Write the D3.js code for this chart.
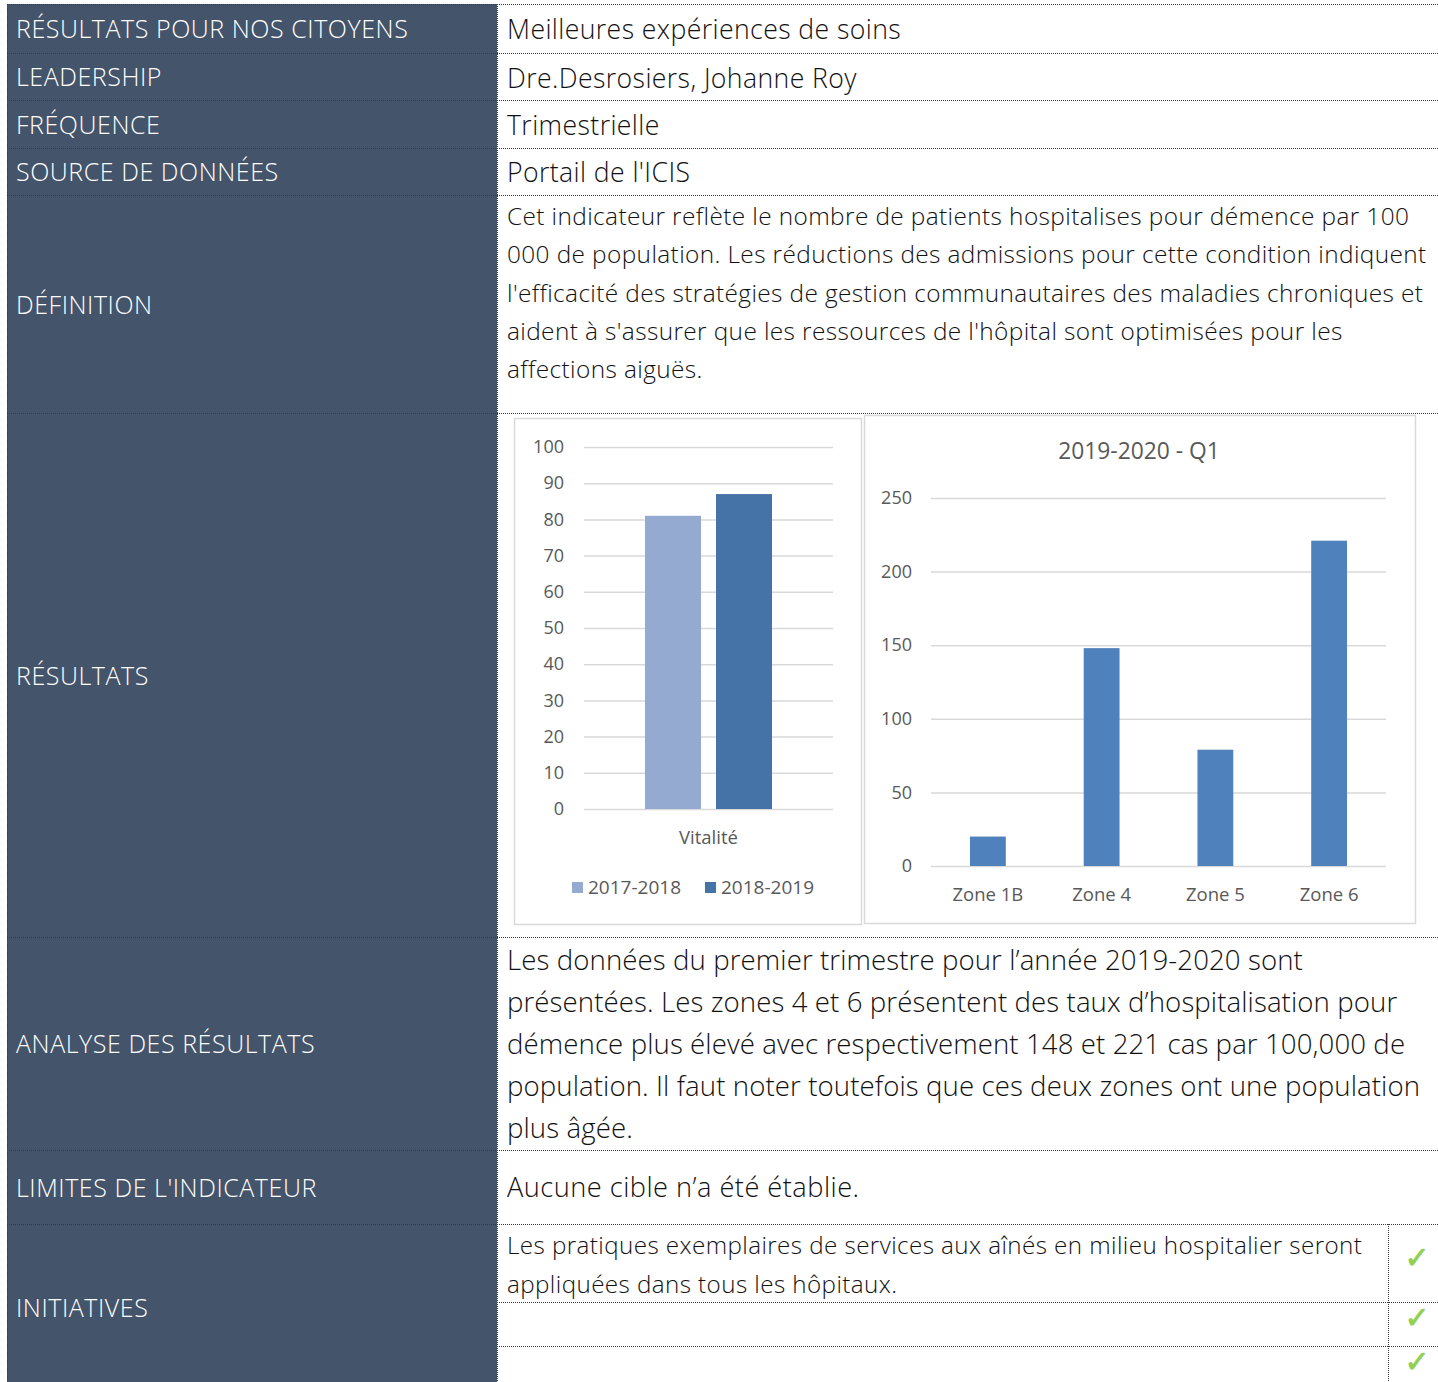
<!DOCTYPE html>
<html>
<head>
<meta charset="utf-8">
<script src="https://cdn.jsdelivr.net/npm/d3@7"></script>
<style>
  body { margin: 0; background: #fff; }
  svg text { font-family: "Open Sans", "Noto Sans", sans-serif; }
</style>
</head>
<body>
<div class="page"></div>
<script>
// row labels / contents of the sheet
const rowLabels = ['RÉSULTATS POUR NOS CITOYENS', 'LEADERSHIP', 'FRÉQUENCE', 'SOURCE DE DONNÉES',
  'DÉFINITION', 'RÉSULTATS', 'ANALYSE DES RÉSULTATS', "LIMITES DE L'INDICATEUR", 'INITIATIVES']
const rowBounds = [4, 53, 100, 148, 195, 413, 937, 1150, 1224, 1382]

const headerTexts = ['Meilleures expériences de soins', 'Dre.Desrosiers, Johanne Roy', 'Trimestrielle', "Portail de l'ICIS"]
const definitionLines = [
  'Cet indicateur reflète le nombre de patients hospitalises pour démence par 100',
  '000 de population. Les réductions des admissions pour cette condition indiquent',
  "l'efficacité des stratégies de gestion communautaires des maladies chroniques et",
  "aident à s'assurer que les ressources de l'hôpital sont optimisées pour les",
  'affections aiguës.'
]
const analyseLines = [
  'Les données du premier trimestre pour l’année 2019-2020 sont',
  'présentées. Les zones 4 et 6 présentent des taux d’hospitalisation pour',
  'démence plus élevé avec respectivement 148 et 221 cas par 100,000 de',
  'population. Il faut noter toutefois que ces deux zones ont une population',
  'plus âgée.'
]
const limiteText = 'Aucune cible n’a été établie.'
const initiativeLines = ['Les pratiques exemplaires de services aux aînés en milieu hospitalier seront',
  'appliquées dans tous les hôpitaux.']

// chart 1 : Vitalité
const vitaliteCategory = ['Vitalité']
const vitaliteSeries = ['2017-2018', '2018-2019']
const vitaliteValues = [81, 87]
const vitaliteTicks = [0, 10, 20, 30, 40, 50, 60, 70, 80, 90, 100]

// chart 2 : zones 2019-2020 Q1
const zoneTitle = '2019-2020 - Q1'
const zones = ['Zone 1B', 'Zone 4', 'Zone 5', 'Zone 6']
const zoneValues = [20, 148, 79, 221]
const zoneTicks = [0, 50, 100, 150, 200, 250]

const width = 1438
const height = 1382
const splitX = 497
const leftX = 7
const navy = '#44546a'
const axisGrey = '#595959'
const gridGrey = '#d9d9d9'

const svg = d3.select('.page').append('svg')
  .attr('width', width)
  .attr('height', height)

// left column
svg.append('rect')
  .attr('x', leftX).attr('y', rowBounds[0])
  .attr('width', splitX - leftX).attr('height', height - rowBounds[0])
  .attr('fill', navy)

const labelY = [38, 86, 134, 181, 314, 685, 1053, 1197, 1317]
svg.append('g').selectAll('text')
  .data(rowLabels)
  .join('text')
  .attr('x', 16)
  .attr('y', (d, i) => labelY[i])
  .attr('fill', '#fff')
  .attr('font-size', 25)
  .attr('font-weight', 300)
  .attr('letter-spacing', 0.55)
  .text(d => d)

// dotted rules
const rules = svg.append('g')
  .attr('stroke', '#3a3a3a')
  .attr('stroke-width', 1)
  .attr('stroke-dasharray', '1,1')
rules.selectAll('line.h')
  .data(rowBounds.slice(0, -1))
  .join('line')
  .attr('class', 'h')
  .attr('x1', leftX).attr('x2', width)
  .attr('y1', d => d + 0.5).attr('y2', d => d + 0.5)
rules.append('line')
  .attr('x1', leftX + 0.5).attr('x2', leftX + 0.5)
  .attr('y1', rowBounds[0]).attr('y2', height)
rules.append('line')
  .attr('x1', splitX + 0.5).attr('x2', splitX + 0.5)
  .attr('y1', rowBounds[0]).attr('y2', height)
rules.selectAll('line.s')
  .data([1302, 1346])
  .join('line')
  .attr('class', 's')
  .attr('x1', splitX).attr('x2', width)
  .attr('y1', d => d + 0.5).attr('y2', d => d + 0.5)
rules.append('line')
  .attr('x1', 1388.5).attr('x2', 1388.5)
  .attr('y1', 1224).attr('y2', height)

// right column texts
const textX = 507
svg.append('g').selectAll('text')
  .data(headerTexts)
  .join('text')
  .attr('x', textX)
  .attr('y', (d, i) => [39, 88, 135, 182][i])
  .attr('fill', '#111')
  .attr('font-size', 26.6)
  .attr('font-weight', 300)
  .attr('letter-spacing', 0.42)
  .text(d => d)

function block(lines, y0, step, size, spacing) {
  svg.append('g').selectAll('text')
    .data(lines)
    .join('text')
    .attr('x', textX)
    .attr('y', (d, i) => y0 + i * step)
    .attr('fill', '#111')
    .attr('font-size', size)
    .attr('font-weight', 300)
    .attr('letter-spacing', spacing)
    .text(d => d)
}
block(definitionLines, 225, 38.3, 24.4, 0.39)
block(analyseLines, 970, 42, 27.6, 0.1)
block([limiteText], 1197, 0, 27.2, 0.48)
block(initiativeLines, 1254, 39, 24.2, 0.42)

svg.append('g').selectAll('text')
  .data([1268, 1328, 1372])
  .join('text')
  .attr('x', 1417)
  .attr('y', d => d)
  .attr('text-anchor', 'middle')
  .attr('fill', '#92d050')
  .attr('stroke', '#92d050')
  .attr('stroke-width', 0.8)
  .attr('font-size', 30)
  .style('font-family', 'DejaVu Sans')
  .text('✓')

// chart 1
const c1 = svg.append('g')
c1.append('rect')
  .attr('x', 514.5).attr('y', 418.5).attr('width', 347).attr('height', 506)
  .attr('fill', '#fff').attr('stroke', gridGrey).attr('stroke-width', 1.5)

const y1 = d3.scaleLinear().domain([0, 100]).range([809, 447])
const x1 = d3.scaleBand().domain(vitaliteCategory).range([584, 833]).paddingInner(0).paddingOuter(0.48)
const x1s = d3.scaleBand().domain(vitaliteSeries).range([0, x1.bandwidth()]).paddingInner(0.211)
const seriesColor = d3.scaleOrdinal().domain(vitaliteSeries).range(['#95aad0', '#4673a7'])

c1.append('g')
  .attr('transform', 'translate(584,0)')
  .call(d3.axisLeft(y1).tickValues(vitaliteTicks).tickSize(-249).tickPadding(20))
  .call(g => g.select('.domain').remove())
  .call(g => g.selectAll('line').attr('stroke', gridGrey).attr('stroke-width', 1.5))
  .call(g => g.selectAll('text').attr('fill', axisGrey).attr('font-size', 18)
    .style('font-family', '"Open Sans", sans-serif'))

c1.append('g').selectAll('rect')
  .data(vitaliteValues.map((v, i) => ({ key: vitaliteSeries[i], value: v })))
  .join('rect')
  .attr('x', d => x1(vitaliteCategory[0]) + x1s(d.key))
  .attr('y', d => y1(d.value))
  .attr('width', x1s.bandwidth())
  .attr('height', d => y1(0) - y1(d.value))
  .attr('fill', d => seriesColor(d.key))

c1.append('g')
  .attr('transform', 'translate(0,809)')
  .call(d3.axisBottom(x1).tickSize(0).tickPadding(22))
  .call(g => g.select('.domain').remove())
  .call(g => g.selectAll('text').attr('fill', axisGrey).attr('font-size', 18.5)
    .style('font-family', '"Open Sans", sans-serif'))

const legend = c1.append('g').selectAll('g')
  .data(vitaliteSeries)
  .join('g')
  .attr('transform', (d, i) => `translate(${[572, 705][i]},882)`)
legend.append('rect').attr('width', 11).attr('height', 11).attr('fill', d => seriesColor(d))
legend.append('text').attr('x', 16).attr('y', 12).attr('fill', axisGrey).attr('font-size', 19).text(d => d)

// chart 2
const c2 = svg.append('g')
c2.append('rect')
  .attr('x', 864.5).attr('y', 415.5).attr('width', 551).attr('height', 508)
  .attr('fill', '#fff').attr('stroke', gridGrey).attr('stroke-width', 1.5)

c2.append('text')
  .attr('x', 1139).attr('y', 459)
  .attr('text-anchor', 'middle')
  .attr('fill', axisGrey).attr('font-size', 22.8)
  .text(zoneTitle)

const y2 = d3.scaleLinear().domain([0, 250]).range([866, 498])
const x2 = d3.scaleBand().domain(zones).range([931, 1386]).padding(0.685).paddingOuter(0.3425)

c2.append('g')
  .attr('transform', 'translate(931,0)')
  .call(d3.axisLeft(y2).tickValues(zoneTicks).tickSize(-455).tickPadding(19))
  .call(g => g.select('.domain').remove())
  .call(g => g.selectAll('line').attr('stroke', gridGrey).attr('stroke-width', 1.5))
  .call(g => g.selectAll('text').attr('fill', axisGrey).attr('font-size', 18)
    .style('font-family', '"Open Sans", sans-serif'))

c2.append('g').selectAll('rect')
  .data(zones)
  .join('rect')
  .attr('x', d => x2(d))
  .attr('y', (d, i) => y2(zoneValues[i]))
  .attr('width', x2.bandwidth())
  .attr('height', (d, i) => y2(0) - y2(zoneValues[i]))
  .attr('fill', '#4f81bd')

c2.append('g')
  .attr('transform', 'translate(0,866)')
  .call(d3.axisBottom(x2).tickSize(0).tickPadding(22))
  .call(g => g.select('.domain').remove())
  .call(g => g.selectAll('text').attr('fill', axisGrey).attr('font-size', 18.5)
    .style('font-family', '"Open Sans", sans-serif'))
</script>
</body>
</html>
